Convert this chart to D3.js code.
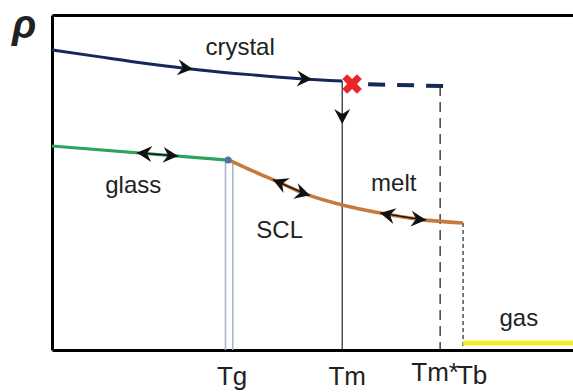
<!DOCTYPE html>
<html>
<head>
<meta charset="utf-8">
<script src="https://cdn.jsdelivr.net/npm/d3@7"></script>
<style>
  body { margin: 0; background: #fff; }
  text { font-family: "Liberation Sans", Arial, sans-serif; fill: #222; }
</style>
</head>
<body>
<svg id="chart" width="573" height="392"></svg>
<script>
// temperature and density in arbitrary units (0..100)
const crystalT = [0, 9.2, 18.8, 28.4, 37.9, 47.6, 55.7];
const crystalRho = [89.6, 87.5, 85.4, 83.6, 82.2, 81.0, 80.3];
const superT = [57.6, 75.2];
const superRho = [79.4, 78.8];
const glassT = [0, 33.8];
const glassRho = [60.9, 56.7];
const liquidT = [34.0, 39.9, 43.8, 48.6, 55.7, 63.0, 70.6, 78.9];
const liquidRho = [56.7, 52.5, 49.9, 46.6, 43.3, 40.9, 39.0, 37.9];
const gasT = [78.9, 100];
const gasRho = [2.1, 2.1];
const tickNames = ["Tg", "Tm", "Tm*", "Tb"];
const tickT = [34.0, 55.7, 74.5, 78.9];
const tgLinesT = [33.3, 34.7];

(() => {
    const svg = d3.select("#chart"),
        margin = { top: 15, right: 0, bottom: 42, left: 52 },
        width = +svg.attr("width") - margin.left - margin.right,
        height = +svg.attr("height") - margin.top - margin.bottom;

    const x = d3.scaleLinear().domain([0, 100]).range([margin.left, margin.left + width]);
    const y = d3.scaleLinear().domain([0, 100]).range([margin.top + height, margin.top]);

    const pts = (ts, rs) => ts.map((t, i) => [t, rs[i]]);
    const line = d3.line().x(d => x(d[0])).y(d => y(d[1]));
    const curve = d3.line().x(d => x(d[0])).y(d => y(d[1])).curve(d3.curveMonotoneX);

    // frame
    const frame = g => g.call(a => a.selectAll(".tick").remove())
        .call(a => a.select(".domain").attr("stroke", "#000").attr("stroke-width", 3));
    svg.append("g").attr("transform", `translate(0,${y(0)})`)
        .call(d3.axisBottom(x).tickValues([]).tickSizeOuter(0)).call(frame);
    svg.append("g").attr("transform", `translate(0,${y(100)})`)
        .call(d3.axisTop(x).tickValues([]).tickSizeOuter(0)).call(frame);
    svg.append("g").attr("transform", `translate(${x(0)},0)`)
        .call(d3.axisLeft(y).tickValues([]).tickSizeOuter(0)).call(frame);

    const crystalAt = d3.scaleLinear().domain(crystalT).range(crystalRho);
    const liquidAt = d3.scaleLinear().domain(liquidT).range(liquidRho);
    const glassAt = d3.scaleLinear().domain(glassT).range(glassRho);

    // vertical guide lines
    tgLinesT.forEach(t => {
        svg.append("path").attr("d", line([[t, glassRho[1]], [t, 0]]))
            .attr("stroke", "#a9b7ca").attr("stroke-width", 1.6).attr("fill", "none");
    });
    svg.append("path").attr("d", line([[tickT[1], crystalRho[crystalRho.length - 1]], [tickT[1], 0]]))
        .attr("stroke", "#111").attr("stroke-width", 1.1).attr("fill", "none");
    svg.append("path").attr("d", line([[tickT[2], superRho[1]], [tickT[2], 0]]))
        .attr("stroke", "#333").attr("stroke-width", 1.4).attr("stroke-dasharray", "10,6").attr("fill", "none");
    svg.append("path").attr("d", line([[tickT[3], liquidRho[liquidRho.length - 1]], [tickT[3], 0]]))
        .attr("stroke", "#111").attr("stroke-width", 1.1).attr("stroke-dasharray", "4,3").attr("fill", "none");

    // phase curves
    svg.append("path").attr("d", curve(pts(crystalT, crystalRho)))
        .attr("stroke", "#15285c").attr("stroke-width", 3).attr("fill", "none");
    svg.append("path").attr("d", line(pts(superT, superRho)))
        .attr("stroke", "#15285c").attr("stroke-width", 4).attr("fill", "none")
        .attr("stroke-dasharray", "17,12").attr("stroke-dashoffset", 13);
    svg.append("path").attr("d", line(pts(glassT, glassRho)))
        .attr("stroke", "#2ca55c").attr("stroke-width", 3.2).attr("fill", "none");
    svg.append("path").attr("d", curve(pts(liquidT, liquidRho)))
        .attr("stroke", "#c67a3e").attr("stroke-width", 3.6).attr("fill", "none");
    svg.append("path").attr("d", line(pts(gasT, gasRho)))
        .attr("stroke", "#f2ee2c").attr("stroke-width", 5).attr("fill", "none");

    // Tg point and melting mark
    svg.append("circle").attr("cx", x(glassT[1])).attr("cy", y(glassRho[1])).attr("r", 3.5)
        .attr("fill", "#4f72a8");
    svg.append("path").attr("d", d3.symbol(d3.symbolCross, 240)())
        .attr("transform", `translate(${x(superT[0])},${y(superRho[0])}) rotate(45)`)
        .attr("fill", "#e8262b");

    // arrows
    const head = "M0,0 L-15,-8 L-10,0 L-15,8 Z";
    const arrowAt = (f, t, dir) => {
        const a = Math.atan2(y(f(t + dir)) - y(f(t)), x(t + dir) - x(t)) * 180 / Math.PI;
        svg.append("path").attr("d", head).attr("fill", "#111")
            .attr("transform", `translate(${x(t)},${y(f(t))}) rotate(${a})`);
    };
    const twoWay = (f, t0, t1) => {
        svg.append("path").attr("d", line(d3.range(t0, t1, 0.5).concat(t1).map(t => [t, f(t)])))
            .attr("stroke", "#111").attr("stroke-width", 1.4).attr("fill", "none");
        arrowAt(f, t0, -0.5);
        arrowAt(f, t1, 0.5);
    };
    arrowAt(crystalAt, 27, 0.5);
    arrowAt(crystalAt, 49.9, 0.5);
    twoWay(glassAt, 16.3, 24.2);
    twoWay(liquidAt, 42.4, 49.5);
    twoWay(liquidAt, 63.0, 71.8);
    svg.append("path").attr("d", head).attr("fill", "#111")
        .attr("transform", `translate(${x(tickT[1])},${y(67.5)}) rotate(90)`);

    // phase labels
    const labels = [
        { text: "crystal", t: 36.1, r: 88 },
        { text: "glass", t: 15.6, r: 47 },
        { text: "SCL", t: 43.7, r: 33.4 },
        { text: "melt", t: 65.6, r: 47.5 },
        { text: "gas", t: 89.6, r: 7.2 }
    ];
    svg.selectAll("text.phase").data(labels).enter().append("text")
        .attr("class", "phase")
        .attr("x", d => x(d.t)).attr("y", d => y(d.r))
        .attr("text-anchor", "middle").attr("font-size", "24px")
        .text(d => d.text);

    // temperature labels
    const dx = [3, 5, -5, 9], dy = [35, 35, 31, 34];
    svg.selectAll("text.tick").data(tickNames).enter().append("text")
        .attr("class", "tick")
        .attr("x", (d, i) => x(tickT[i]) + dx[i]).attr("y", (d, i) => y(0) + dy[i])
        .attr("text-anchor", "middle").attr("font-size", "26px")
        .text(d => d);

    // axis symbol
    svg.append("text").attr("x", 12).attr("y", 38)
        .attr("font-family", "Liberation Serif, Times New Roman, serif")
        .attr("font-style", "italic").attr("font-weight", "bold").attr("font-size", "40px")
        .attr("fill", "#111").text("ρ");
})();
</script>
</body>
</html>
